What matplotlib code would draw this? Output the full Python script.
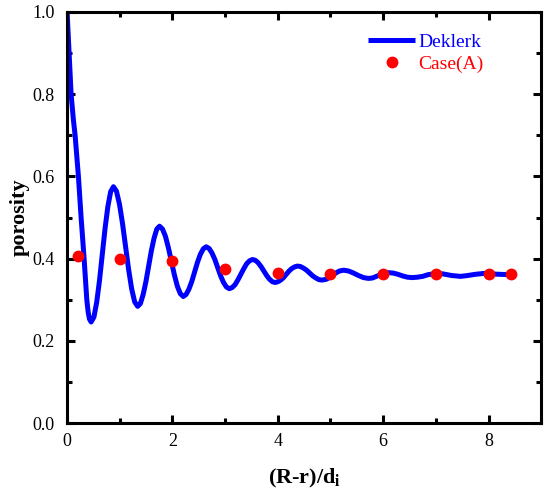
import matplotlib
matplotlib.use('Agg')
import matplotlib.pyplot as plt
from matplotlib.ticker import MultipleLocator

plt.rcParams['font.family'] = ['Liberation Serif', 'DejaVu Serif']
plt.rcParams['mathtext.fontset'] = 'custom'
plt.rcParams['mathtext.rm'] = 'Liberation Serif'
plt.rcParams['mathtext.bf'] = 'Liberation Serif:bold'

# Deklerk curve
deklerk_x = [0, 0.038, 0.076, 0.12, 0.152, 0.215, 0.266, 0.323, 0.374, 0.40, 0.425, 0.456,
             0.509, 0.562, 0.615, 0.668, 0.721, 0.774, 0.827, 0.88,
             0.9375, 0.995, 1.0525, 1.11, 1.1675, 1.225, 1.2825, 1.34,
             1.392, 1.444, 1.496, 1.548, 1.599, 1.651, 1.703, 1.755,
             1.811, 1.868, 1.924, 1.98, 2.036, 2.093, 2.149, 2.205,
             2.259, 2.313, 2.368, 2.423, 2.477, 2.531, 2.586, 2.64,
             2.695, 2.75, 2.805, 2.86, 2.915, 2.97, 3.025, 3.08,
             3.135, 3.19, 3.245, 3.30, 3.355, 3.41, 3.465, 3.52,
             3.574, 3.628, 3.681, 3.735, 3.789, 3.843, 3.896, 3.95,
             4.003, 4.055, 4.108, 4.16, 4.213, 4.265, 4.318, 4.37,
             4.429, 4.488, 4.546, 4.605, 4.664, 4.723, 4.781, 4.84,
             4.922, 5.004, 5.086, 5.168, 5.25,
             5.344, 5.438, 5.532, 5.626, 5.72,
             5.796, 5.872, 5.948, 6.024, 6.10,
             6.19, 6.28, 6.37, 6.46, 6.55,
             6.65, 6.75, 6.85, 6.95, 7.05,
             7.134, 7.218, 7.302, 7.386, 7.47,
             7.6, 7.75, 7.9, 8.05, 8.2, 8.45]
deklerk_y = [1.0, 0.90, 0.80, 0.737, 0.70, 0.60, 0.50, 0.40, 0.30, 0.27, 0.253, 0.246,
             0.258, 0.294, 0.347, 0.4105, 0.474, 0.527, 0.563, 0.575,
             0.564, 0.532, 0.485, 0.430, 0.374, 0.327, 0.295, 0.284,
             0.291, 0.313, 0.344, 0.382, 0.419, 0.450, 0.472, 0.479,
             0.472, 0.454, 0.426, 0.394, 0.361, 0.333, 0.315, 0.308,
             0.313, 0.326, 0.345, 0.369, 0.392, 0.411, 0.424, 0.429,
             0.425, 0.414, 0.398, 0.378, 0.358, 0.342, 0.331, 0.327,
             0.330, 0.337, 0.349, 0.3625, 0.376, 0.388, 0.395, 0.398,
             0.396, 0.390, 0.381, 0.370, 0.359, 0.350, 0.344, 0.342,
             0.344, 0.348, 0.354, 0.362, 0.370, 0.376, 0.380, 0.382,
             0.381, 0.377, 0.372, 0.365, 0.358, 0.353, 0.349, 0.348,
             0.350, 0.356, 0.364, 0.370, 0.372,
             0.370, 0.365, 0.359, 0.354, 0.352,
             0.353, 0.357, 0.361, 0.365, 0.366,
             0.365, 0.362, 0.358, 0.355, 0.354,
             0.355, 0.357, 0.361, 0.363, 0.364,
             0.363, 0.361, 0.359, 0.358, 0.357,
             0.359, 0.362, 0.364, 0.363, 0.362, 0.361]

# Case(A) points
case_x = [0.2, 1, 2, 3, 4, 5, 6, 7, 8, 8.42]
case_y = [0.406, 0.400, 0.395, 0.374, 0.365, 0.362, 0.362, 0.362, 0.362, 0.362]

fig = plt.figure(figsize=(5.5, 4.99), dpi=100)
ax = fig.add_axes([0.122, 0.152, 0.862, 0.824])

ax.plot(deklerk_x, deklerk_y, color='#0000FF', lw=3.6, label='Deklerk',
        solid_capstyle='butt', solid_joinstyle='round')
ax.plot(case_x, case_y, 'o', color='#FF0000', ms=7.5, mec='#FF0000',
        label='Case(A)')

ax.set_xlim(0, 9)
ax.set_ylim(0, 1.0)
ax.xaxis.set_major_locator(MultipleLocator(2))
ax.xaxis.set_minor_locator(MultipleLocator(1))
ax.yaxis.set_minor_locator(MultipleLocator(0.1))
ax.set_yticks([0.0, 0.2, 0.4, 0.6, 0.8, 1.0])
ax.set_yticklabels(['0.0', '0.2', '0.4', '0.6', '0.8', '1.0'])

for s in ax.spines.values():
    s.set_linewidth(2.2)
ax.tick_params(which='both', direction='in', top=True, right=True,
               width=2.2, labelsize=13)
ax.tick_params(which='major', length=6)
ax.tick_params(which='minor', length=3.5)
ax.tick_params(axis='x', which='major', pad=7)
ax.tick_params(axis='y', which='major', pad=9)

ax.set_xlabel(r'(R-r)/d$_\mathbf{i}$', fontsize=16, fontweight='bold',
              labelpad=12)
ax.set_ylabel('porosity', fontsize=16, fontweight='bold', labelpad=2)

ax.legend(loc='upper left', bbox_to_anchor=(0.635, 0.949), frameon=False,
          fontsize=14, handlelength=2.42, handletextpad=0.15,
          borderpad=0, borderaxespad=0, labelspacing=0.25,
          labelcolor='linecolor')

fig.savefig('out.png', dpi=100)
